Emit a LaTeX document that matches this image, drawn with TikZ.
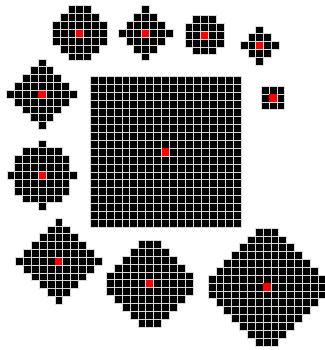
\documentclass[tikz,border=0pt]{standalone}
\tikzset{cell/.style={fill=black,draw=white!85!black,line width=0.7pt},
         centrecell/.style={fill=red}}
\newcommand\selem[5]{% cx, cy, R, cell size, list of half widths (top to bottom)
  \foreach \h [count=\k] in {#5}{
    \pgfmathtruncatemacro\rowi{\k-1-#3}
    \pgfmathtruncatemacro\wd{2*\h}
    \foreach \j in {0,...,\wd}{
      \draw[cell] ({#1+(\j-\h-0.5)*#4},{#2+(\rowi-0.5)*#4}) rectangle ++(#4,#4);
    }
  }
  \fill[centrecell] ({#1-0.5*#4+0.4},{#2-0.5*#4+0.4}) rectangle ++({#4-0.8},{#4-0.8});
}
\begin{document}
\begin{tikzpicture}[x=1pt,y=-1pt]
\useasboundingbox (0,0) rectangle (324,350);
% top row
\selem{79.7}{33.3}{3}{7.85}{1,2,3,3,3,2,1}
\selem{145.5}{33.3}{3}{7.85}{0,1,2,3,2,1,0}
\selem{204.5}{35.2}{2}{7.85}{1,2,2,2,1}
\selem{259.7}{45.5}{2}{7.85}{0,1,2,1,0}
% left column
\selem{42}{94.2}{4}{7.85}{0,1,2,3,4,3,2,1,0}
\selem{42.3}{175.3}{4}{7.85}{0,2,3,3,4,3,3,2,0}
% small square
\selem{273}{98}{1}{7.85}{1,1,1}
% big square
\selem{165.6}{152}{9}{7.95}{9,9,9,9,9,9,9,9,9,9,9,9,9,9,9,9,9,9,9}
% bottom row
\selem{58.8}{261.2}{5}{7.85}{0,1,2,3,4,5,4,3,2,1,0}
\selem{149.7}{283.7}{5}{7.85}{1,2,3,4,5,5,5,4,3,2,1}
\selem{267}{287}{7}{7.85}{1,2,3,4,5,6,7,7,7,6,5,4,3,2,1}
\end{tikzpicture}
\end{document}
